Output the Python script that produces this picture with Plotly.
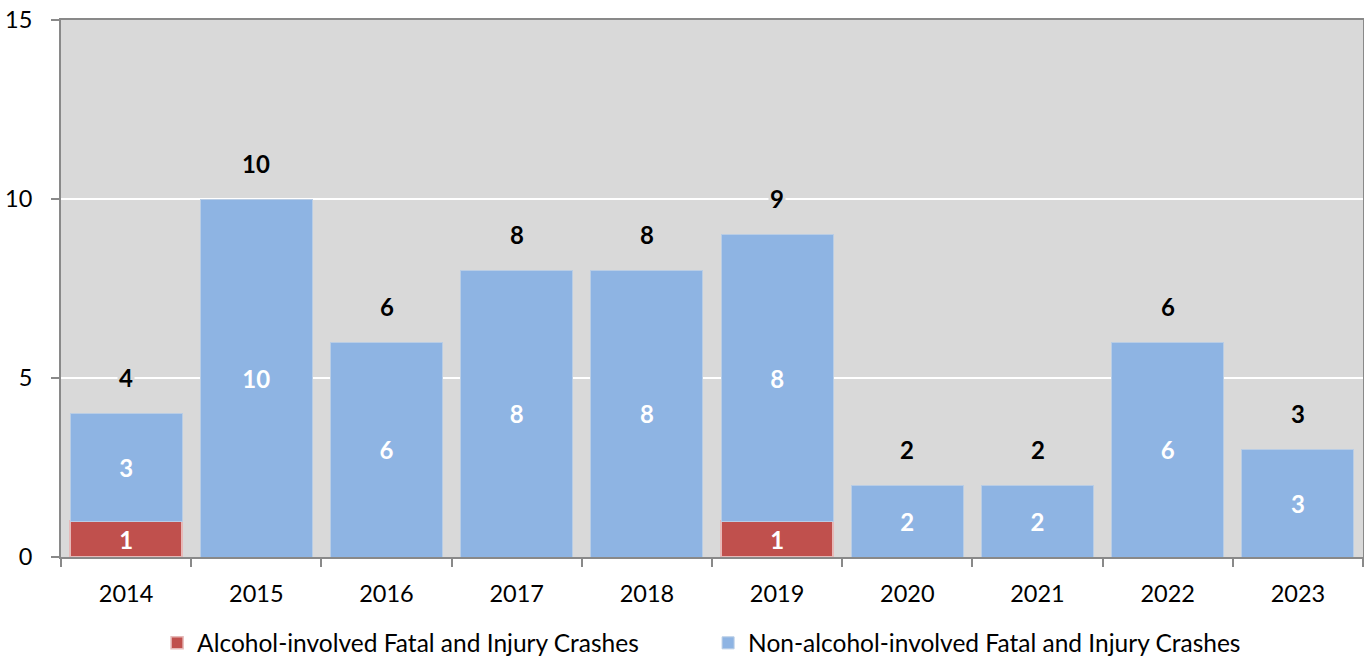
import plotly.graph_objects as go

years = ["2014", "2015", "2016", "2017", "2018", "2019", "2020", "2021", "2022", "2023"]
alcohol = [1, 0, 0, 0, 0, 1, 0, 0, 0, 0]
non_alcohol = [3, 10, 6, 8, 8, 8, 2, 2, 6, 3]
totals = [a + n for a, n in zip(alcohol, non_alcohol)]
y_ticks = [0, 5, 10, 15]

FONT = "Lato"
RED = "#C0504D"
BLUE = "#8EB4E3"
AXC = "#898989"
xpos = list(range(len(years)))

fig = go.Figure()
fig.add_trace(go.Bar(
    x=xpos, y=alcohol, name="Alcohol-involved Fatal and Injury Crashes",
    marker=dict(color=RED, line=dict(color="#E6B9B8", width=1.5)),
    text=[str(v) if v else "" for v in alcohol], textposition="inside",
    insidetextanchor="middle",
    textfont=dict(family=FONT, size=24, color="white", weight="bold"),
))
fig.add_trace(go.Bar(
    x=xpos, y=non_alcohol, name="Non-alcohol-involved Fatal and Injury Crashes",
    marker=dict(color=BLUE, line=dict(color="#B9CDE5", width=1)),
    text=[str(v) if v else "" for v in non_alcohol], textposition="inside",
    insidetextanchor="middle",
    textfont=dict(family=FONT, size=24, color="white", weight="bold"),
))

for xp, t in zip(xpos, totals):
    fig.add_annotation(x=xp, y=t, text=f"<b>{t}</b>", showarrow=False,
                       yshift=36, yanchor="middle", bgcolor="#D9D9D9",
                       font=dict(family=FONT, size=24, color="black"))

fig.update_layout(
    barmode="stack", bargap=0.14,
    width=1364, height=658,
    margin=dict(l=61, r=1, t=20, b=101, autoexpand=False),
    paper_bgcolor="white", plot_bgcolor="#D9D9D9",
    font=dict(family=FONT, size=23, color="black"),
    uniformtext=dict(mode="show", minsize=10),
    legend=dict(orientation="h", x=0.497, xanchor="center", y=-0.16, yanchor="middle",
                font=dict(family=FONT, size=24.5), itemwidth=30,
                traceorder="normal", entrywidth=506),
    showlegend=True,
)
fig.update_xaxes(
    range=[-0.5, len(years) - 0.5], tickmode="array", tickvals=xpos, ticktext=years,
    ticks="", showline=True, linecolor=AXC, linewidth=2, mirror=True,
    showgrid=False, zeroline=False, tickfont=dict(family=FONT, size=23.5),
    ticklabelstandoff=15,
    minor=dict(tickmode="array", tickvals=[i - 0.5 for i in range(len(years) + 1)],
               ticks="outside", ticklen=8, tickcolor=AXC, tickwidth=2, showgrid=False),
)
fig.update_yaxes(
    range=[0, 15], tickvals=y_ticks, ticks="outside", ticklen=8, tickwidth=2,
    tickcolor=AXC, showline=True, linecolor=AXC, linewidth=2, mirror=True,
    showgrid=True, gridcolor="white", gridwidth=1.5, zeroline=False,
    tickfont=dict(family=FONT, size=23.5), ticklabelstandoff=14,
)

fig.write_html("out.html")
